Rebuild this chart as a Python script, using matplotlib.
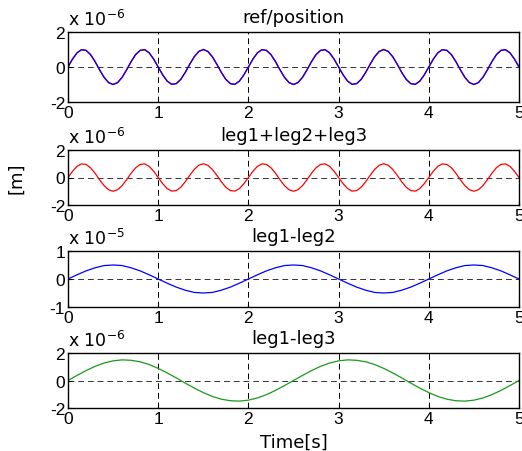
import matplotlib
matplotlib.use('Agg')
import matplotlib.pyplot as plt
import numpy as np

plt.rcParams['font.family'] = ['Liberation Sans', 'DejaVu Sans']
plt.rcParams['axes.unicode_minus'] = False

# sample times
t_fast = np.linspace(0, 5, 101)
t_slow = np.linspace(0, 5, 51)

# ref/position  (x 1e-6)
ref_pos = [0, .45, .81, .99, .95, .71, .31, -.16, -.59, -.89, -1, -.89, -.59, -.16, .31, .71, .95, .99, .81, .45,
           0, -.45, -.81, -.99, -.95, -.71, -.31, .16, .59, .89, 1, .89, .59, .16, -.31, -.71, -.95, -.99, -.81, -.45,
           0, .45, .81, .99, .95, .71, .31, -.16, -.59, -.89, -1, -.89, -.59, -.16, .31, .71, .95, .99, .81, .45,
           0, -.45, -.81, -.99, -.95, -.71, -.31, .16, .59, .89, 1, .89, .59, .16, -.31, -.71, -.95, -.99, -.81, -.45,
           0, .45, .81, .99, .95, .71, .31, -.16, -.59, -.89, -1, -.89, -.59, -.16, .31, .71, .95, .99, .81, .45, 0]

# leg1+leg2+leg3  (x 1e-6)
leg_sum = [0, .45, .81, .99, .95, .71, .31, -.16, -.59, -.89, -1, -.89, -.59, -.16, .31, .71, .95, .99, .81, .45,
           0, -.45, -.81, -.99, -.95, -.71, -.31, .16, .59, .89, 1, .89, .59, .16, -.31, -.71, -.95, -.99, -.81, -.45,
           0, .45, .81, .99, .95, .71, .31, -.16, -.59, -.89, -1, -.89, -.59, -.16, .31, .71, .95, .99, .81, .45,
           0, -.45, -.81, -.99, -.95, -.71, -.31, .16, .59, .89, 1, .89, .59, .16, -.31, -.71, -.95, -.99, -.81, -.45,
           0, .45, .81, .99, .95, .71, .31, -.16, -.59, -.89, -1, -.89, -.59, -.16, .31, .71, .95, .99, .81, .45, 0]

# leg1-leg2  (x 1e-5)
leg12 = [0, .15, .29, .40, .48, .50, .48, .40, .29, .15, 0, -.15, -.29, -.40, -.48, -.50, -.48, -.40, -.29, -.15,
         0, .15, .29, .40, .48, .50, .48, .40, .29, .15, 0, -.15, -.29, -.40, -.48, -.50, -.48, -.40, -.29, -.15,
         0, .15, .29, .40, .48, .50, .48, .40, .29, .15, 0]

# leg1-leg3  (x 1e-6)
leg13 = [0, .37, .72, 1.03, 1.27, 1.43, 1.50, 1.47, 1.36, 1.16, .88, .55, .19,
         -.19, -.55, -.88, -1.16, -1.36, -1.47, -1.50, -1.43, -1.27, -1.03, -.72, -.37,
         0, .37, .72, 1.03, 1.27, 1.43, 1.50, 1.47, 1.36, 1.16, .88, .55, .19,
         -.19, -.55, -.88, -1.16, -1.36, -1.47, -1.50, -1.43, -1.27, -1.03, -.72, -.37, 0]

titles = ['ref/position', 'leg1+leg2+leg3', 'leg1-leg2', 'leg1-leg3']
exponents = ['-6', '-6', '-5', '-6']
ylims = [2, 2, 1, 2]
xticks = [0, 1, 2, 3, 4, 5]

wide = ['DejaVu Sans']

fig = plt.figure(figsize=(5.22, 4.52), dpi=100)
W, H = 522.0, 452.0
left, right = 68, 519
boxes = [(33, 103), (151, 206), (252, 308), (354, 409)]

axes = []
for top, bot in boxes:
    ax = fig.add_axes([left / W, 1 - bot / H, (right - left) / W, (bot - top) / H])
    axes.append(ax)

axes[0].plot(t_fast, ref_pos, color='red', lw=1.0)
axes[0].plot(t_fast, ref_pos, color='blue', lw=0.9)
axes[1].plot(t_fast, leg_sum, color='red', lw=0.9)
axes[2].plot(t_slow, leg12, color='blue', lw=0.9)
axes[3].plot(t_slow, leg13, color='#1a9a1a', lw=0.9)

for i, ax in enumerate(axes):
    lim = ylims[i]
    ax.set_xlim(0, 5)
    ax.set_ylim(-lim, lim)
    ax.set_xticks(xticks)
    ax.set_yticks([-lim, 0, lim])
    ax.set_yticklabels([str(-lim), '0', str(lim)])
    ax.tick_params(direction='in', length=3, labelsize=12.5, width=0.8, pad=2)
    for s in ax.spines.values():
        s.set_linewidth(1.0)
    for x in [1, 2, 3, 4]:
        ax.axvline(x, color='black', lw=0.7, ls=(0, (6, 4)), zorder=0)
    ax.axhline(0, color='#333333', lw=0.7, ls=(0, (6, 4)), zorder=0)
    ax.set_title(titles[i], fontsize=13, pad=7, family=wide)
    ax.annotate('x 10$^{' + exponents[i] + '}$', xy=(0, 1), xycoords='axes fraction',
                xytext=(0, 5), textcoords='offset points',
                fontsize=12.5, ha='left', va='baseline', family=wide)

axes[1].set_ylabel('[m]', fontsize=13, labelpad=18, family=wide)
axes[3].set_xlabel('Time[s]', fontsize=13, labelpad=5, family=wide)

fig.savefig('out.png', dpi=100)
